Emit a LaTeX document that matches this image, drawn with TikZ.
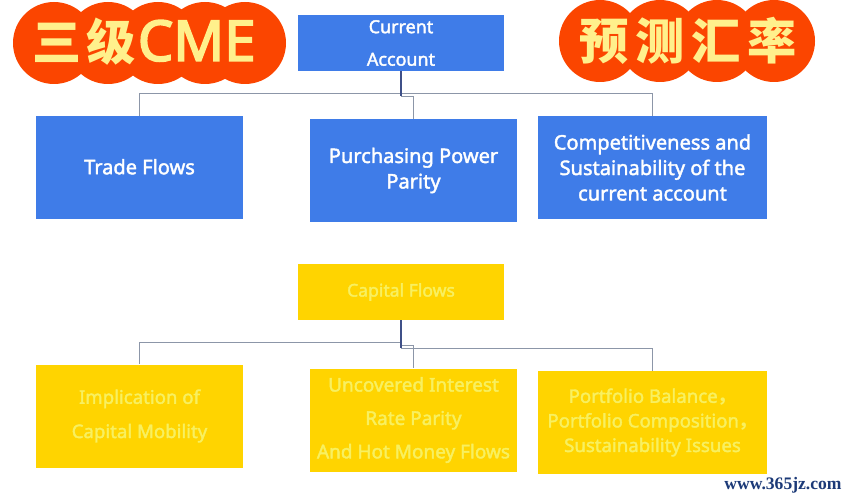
\documentclass[tikz,border=0pt]{standalone}
\usepackage{fontspec}
\setmainfont{Noto Sans}[AutoFakeBold=2]
\newfontfamily\cjk{Noto Sans CJK SC}
\newfontfamily\site{Liberation Serif}
\newfontfamily\heavy{Noto Sans}[AutoFakeBold=3]
\usepackage{tikz}
\usetikzlibrary{calc}
\usetikzlibrary{positioning}

\definecolor{blueBox}{HTML}{3F7CE8}
\definecolor{yellowBox}{HTML}{FFD400}
\definecolor{yellowText}{HTML}{F8F060}
\definecolor{badgeRed}{HTML}{FB4500}
\definecolor{badgeText}{HTML}{FFF08C}
\definecolor{wire}{HTML}{8C96A8}
\definecolor{stemWire}{HTML}{3F5088}
\definecolor{siteBlue}{HTML}{1C3A78}

\begin{document}
\begin{tikzpicture}[
	x=0.02cm, y=-0.02cm,
	box/.style = {minimum height=103*0.02cm, inner sep=0pt, align=center},
	blue box/.style = {box, fill=blueBox, text=white, font=\fontsize{11.4}{14.5}\selectfont\bfseries},
	yellow box/.style = {box, fill=yellowBox, text=yellowText, font=\fontsize{10.6}{14}\selectfont\bfseries},
	wire line/.style = {draw=wire, line width=0.8pt},
	stem line/.style = {draw=stemWire, line width=0.8pt},
	badge text/.style = {text=badgeText, inner sep=0pt, font=\fontsize{28}{28}\selectfont\bfseries}
	]
	\useasboundingbox (0,0) rectangle (848,500);

	% badges
	\foreach \cx in {54,108,158,205,245}
		\fill[badgeRed] (\cx,43) circle[radius=41];
	\foreach \cx in {600,660,717,774}
		\fill[badgeRed] (\cx,41) circle[radius=41];
	\node[badge text] (@grade) at (144,42) {{\cjk 三\hspace{3pt}级}\hspace{1pt}{\heavy\bfseries\fontsize{32}{32}\selectfont CME}};
	\node[badge text] (@title) at (688,41) {\cjk 预\hspace{4pt}测\hspace{4pt}汇\hspace{4pt}率};

	% boxes
	\node[blue box, minimum width=206*0.02cm, minimum height=56*0.02cm, font=\fontsize{10.2}{18.5}\selectfont\bfseries] (@ca) at (401,43) {Current\\Account};
	\node[blue box, minimum width=207*0.02cm] (@1) at (139.5,167.5) {\raisebox{1pt}{Trade Flows}};
	\node[blue box, minimum width=207*0.02cm] (@2) at (413.5,170.5) {Purchasing Power\\Parity};
	\node[blue box, minimum width=229*0.02cm] (@3) at (652.5,167.5) {Competitiveness and\\Sustainability of the\\current account};

	\node[yellow box, minimum width=206*0.02cm, minimum height=56*0.02cm, font=\fontsize{10}{14}\selectfont\bfseries] (@cf) at (401,292) {Capital Flows};
	\node[yellow box, minimum width=207*0.02cm, font=\fontsize{10.6}{19.5}\selectfont\bfseries] (@4) at (139.5,416) {Implication of\\Capital Mobility};
	\node[yellow box, minimum width=207*0.02cm, font=\fontsize{10.8}{19}\selectfont\bfseries] (@5) at (413.5,420) {Uncovered Interest\\Rate Parity\\And Hot Money Flows};
	\node[yellow box, minimum width=229*0.02cm] (@6) at (652.5,422.5) {Portfolio Balance{\cjk ，}\\Portfolio Composition{\cjk ，}\\Sustainability Issues};

	% connectors
	\draw[wire line] (@ca.south) ++(0,22) -| (@1.north);
	\draw[wire line] (@ca.south) ++(0,22) -| (@3.north);
	\draw[wire line] (@ca.south) ++(0,25) -| (@2.north);
	\draw[stem line] (@ca.south) -- ++(0,25);

	\draw[wire line] (@cf.south) ++(0,22) -| (@4.north);
	\draw[wire line] (@cf.south) ++(0,25) -| (@5.north);
	\draw[wire line] (@cf.south) ++(0,28) -| (@6.north);
	\draw[stem line] (@cf.south) -- ++(0,28);

	\node[text=siteBlue, inner sep=0pt, font=\site\fontsize{10}{12}\selectfont\bfseries] (@site) at (783,485) {www.365jz.com};
\end{tikzpicture}
\end{document}
